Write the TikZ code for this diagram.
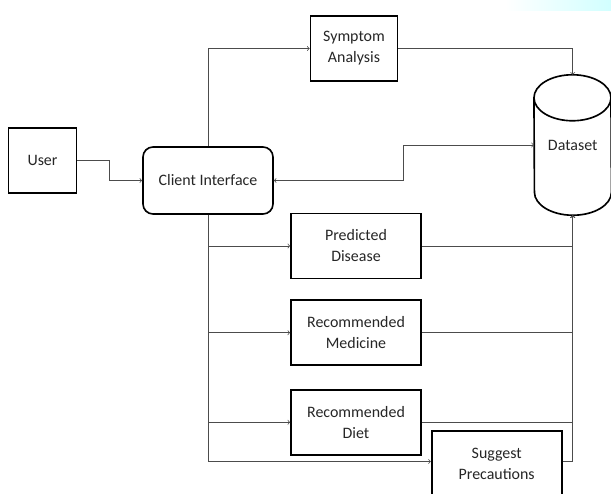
\documentclass[tikz,border=0pt]{standalone}
\usepackage{fontspec}
\setmainfont{Carlito}
\usepackage{tikz}
\usetikzlibrary{positioning,calc}

\begin{document}
\begin{tikzpicture}[
    x=0.03cm, y=-0.03cm,
    node distance=0.6cm,
    font=\fontsize{13.6}{17.9}\selectfont,
    box/.style={rectangle,draw=black,line width=1.4pt,fill=white,text=black!85,
                align=center,minimum width=3.9cm,minimum height=1.95cm,inner sep=2pt},
    roundbox/.style={box,rounded corners=0.3cm,minimum height=2.01cm},
    dbnode/.style={rectangle,text=black!85,minimum width=2.31cm,minimum height=4.2cm,inner sep=0pt},
    link/.style={draw=black!70,line width=0.6pt,->},
]
\useasboundingbox (0,0) rectangle (611,493);
% screenshot tint, top right
\shade[left color=white,right color=cyan!18] (505,0) rectangle (611,10);

\node[box,minimum width=2.04cm] (user) at (42.5,160.5) {User};
\node[roundbox] (client) at (208,180.5) {Client Interface};
\node[box,minimum width=2.61cm] (symptom) at (354,48.5) {Symptom\\Analysis};
\node[dbnode] (data) at (572.7,145) {Dataset};
\draw[line width=1.4pt] ([yshift=-0.69cm]data.north west)
    arc[start angle=180,end angle=0,x radius=1.155cm,y radius=0.69cm]
    -- ([yshift=0.69cm]data.south east)
    arc[start angle=0,end angle=-180,x radius=1.155cm,y radius=0.69cm] -- cycle;
\draw[line width=1.4pt] ([yshift=-0.69cm]data.north west)
    arc[start angle=180,end angle=360,x radius=1.155cm,y radius=0.69cm];

\node[box] (pred) at (356,246) {Predicted\\Disease};
\node[box,below=of pred] (med) {Recommended\\Medicine};
\node[box,below=0.69cm of med] (diet) {Recommended\\Diet};
\node[box] (prec) at (496.7,463.5) {Suggest\\Precautions};

% connectors
\draw[link] (user.east) -| ($(user.east)!0.5!(client.west)$) |- (client.west);
\draw[link] (client.north) |- (symptom.west);
\draw[link] (symptom.east) -| (data.north);
\draw[link,<->] (client.east) -- ++(130,0) |- (data.west);
\draw[link] (client.south) |- (pred.west);
\draw[link] (client.south) |- (med.west);
\draw[link] (client.south) |- (diet.west);
\draw[link] (client.south) -- (208,461.5) -- ([yshift=0.06cm]prec.west);
\draw[link] (pred.east) -| (data.south);
\draw[link] (med.east) -| (data.south);
\draw[link] (diet.east) -| (data.south);
\draw[link] ([yshift=0.06cm]prec.east) -| (data.south);
\end{tikzpicture}
\end{document}
